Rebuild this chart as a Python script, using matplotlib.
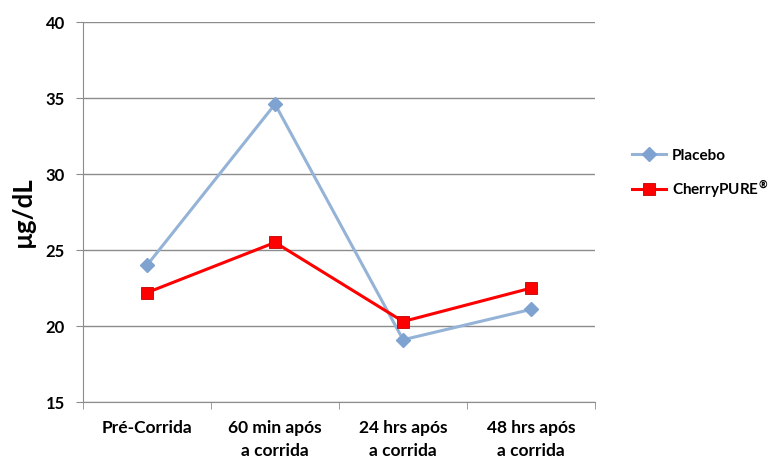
import matplotlib.pyplot as plt
from matplotlib.ticker import FixedLocator

plt.rcParams['font.family'] = ['Lato', 'DejaVu Sans']
plt.rcParams['font.weight'] = 'bold'

# dados
categorias = ['Pré-Corrida', '60 min após\na corrida', '24 hrs após\na corrida', '48 hrs após\na corrida']
placebo = [24.0, 34.6, 19.1, 21.1]
cherry = [22.2, 25.5, 20.3, 22.5]

fig = plt.figure(figsize=(7.68, 4.59), dpi=100)
ax = fig.add_axes([0.108, 0.124, 0.667, 0.828])

x = range(len(categorias))
ax.plot(x, placebo, color='#95B3D7', lw=2.2, marker='D', ms=7,
        mfc='#7FA3D0', mec='#7FA3D0', label='Placebo', zorder=3)
ax.plot(x, cherry, color='#FF0000', lw=2.2, marker='s', ms=9,
        mfc='#FF0000', mec='#C00000', mew=0.6, label='CherryPURE$^{®}$', zorder=4)

ax.set_xlim(-0.5, 3.5)
ax.set_ylim(15, 40)
ax.set_yticks([15, 20, 25, 30, 35, 40])
ax.yaxis.grid(True, color='#8C8C8C', lw=1)
ax.set_axisbelow(True)

# ticks do eixo x nas fronteiras entre categorias
ax.set_xticks(list(x))
ax.set_xticklabels(categorias, fontsize=12.5, fontweight='bold', linespacing=1.5)
ax.tick_params(axis='x', length=0, pad=13)
ax.xaxis.set_minor_locator(FixedLocator([-0.5, 0.5, 1.5, 2.5, 3.5]))
ax.tick_params(axis='x', which='minor', length=5, color='#8C8C8C')
ax.tick_params(axis='y', length=5, color='#8C8C8C', labelsize=12, pad=8)
for t in ax.get_yticklabels():
    t.set_fontweight('bold')

for s in ['top', 'right']:
    ax.spines[s].set_visible(False)
for s in ['left', 'bottom']:
    ax.spines[s].set_color('#8C8C8C')

ax.set_ylabel('µg/dL', fontsize=18.5, fontweight='bold', labelpad=8)

ax.legend(loc='center left', bbox_to_anchor=(1.045, 0.60), frameon=False,
          handlelength=2.2, handletextpad=0.4, labelspacing=1.0,
          prop={'weight': 'bold', 'size': 11})

fig.savefig('out.png', dpi=100)
